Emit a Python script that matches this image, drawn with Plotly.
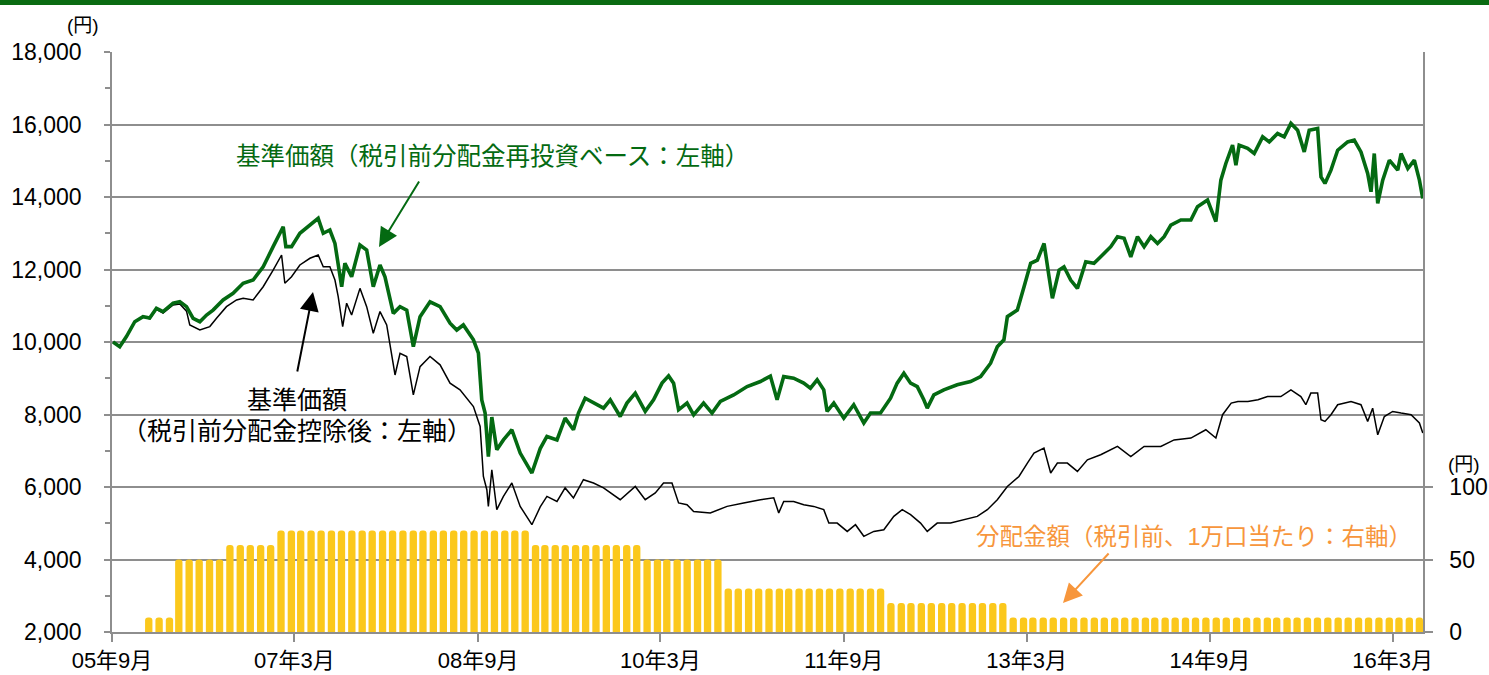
import numpy as np
import pandas as pd
import plotly.graph_objects as go

# ---------------- data ----------------
# time positions are in months since 2005-09-01
green_t = [0.10, 0.76, 1.42, 2.24, 3.05, 3.71, 4.37, 5.02, 6.01, 6.67, 7.33, 7.98, 8.64, 9.30, 9.94,
           10.93, 11.91, 12.90, 13.88, 14.87, 15.85, 16.84, 17.10, 17.66, 18.48, 19.47, 20.28, 20.78,
           21.43, 21.93, 22.59, 22.91, 23.57, 24.39, 25.05, 25.70, 26.36, 26.85, 27.67, 28.33, 28.99,
           29.64, 30.30, 31.28, 32.27, 33.25, 33.91, 34.56, 35.55, 36.04, 36.37, 36.70, 37.02, 37.36,
           37.85, 38.50, 39.33, 40.15, 41.30, 42.12, 42.78, 43.77, 44.57, 45.39, 45.88, 46.54, 47.36,
           48.35, 49.01, 49.99, 50.65, 51.47, 52.45, 53.27, 54.10, 54.75, 55.24, 55.73, 56.56, 57.21,
           58.19, 59.02, 59.84, 61.15, 62.47, 63.78, 64.76, 65.42, 66.07, 67.05, 68.04, 68.70, 69.36,
           70.01, 70.34, 71.00, 71.98, 72.96, 73.95, 74.61, 75.59, 76.58, 77.23, 77.89, 78.55, 79.21,
           79.85, 80.19, 80.84, 81.82, 83.14, 84.45, 85.44, 86.42, 87.08, 87.73, 88.07, 89.05, 89.71,
           90.36, 91.02, 91.68, 92.17, 92.50, 93.16, 93.64, 94.30, 94.96, 95.78, 96.59, 97.25, 98.24,
           98.90, 99.55, 100.21, 100.87, 101.52, 102.18, 102.84, 103.49, 104.15, 105.13, 106.12,
           106.77, 107.76, 108.58, 109.07, 109.56, 110.22, 110.55, 110.87, 111.70, 112.35, 113.18,
           113.83, 114.65, 115.30, 115.96, 116.62, 117.27, 117.76, 118.59, 118.92, 119.31, 119.90,
           120.56, 121.54, 122.19, 122.85, 123.51, 123.84, 124.16, 124.50, 124.99, 125.64, 126.47,
           126.80, 127.46, 128.10, 128.60, 128.93]
green_v = [10000, 9870, 10150, 10560, 10700, 10660, 10930, 10840, 11070, 11110, 10975, 10650, 10560,
           10745, 10880, 11160, 11345, 11620, 11710, 12075, 12630, 13180, 12630, 12630, 13000, 13225,
           13410, 13000, 13090, 12720, 11525, 12170, 11800, 12675, 12535, 11525, 12125, 11800, 10790,
           10975, 10880, 9870, 10700, 11110, 10975, 10520, 10330, 10470, 10060, 9690, 8400, 8040,
           6840, 7930, 7030, 7300, 7580, 6935, 6385, 7060, 7395, 7300, 7900, 7580, 8040, 8450, 8315,
           8175, 8405, 7945, 8315, 8590, 8085, 8405, 8865, 9065, 8865, 8130, 8315, 7990, 8315, 8040,
           8360, 8540, 8770, 8910, 9060, 8405, 9045, 9000, 8865, 8725, 8955, 8680, 8085, 8315, 7900,
           8270, 7765, 8040, 8040, 8450, 8865, 9140, 8865, 8770, 8405, 8175, 8540, 8680, 8820, 8910,
           9045, 9415, 9870, 10060, 10700, 10880, 11525, 12170, 12260, 12720, 11800, 11205, 11985,
           12075, 11710, 11480, 12215, 12170, 12350, 12630, 12905, 12860, 12350, 12905, 12630, 12905,
           12720, 12905, 13225, 13365, 13365, 13730, 13915, 13320, 14465, 14925, 15430, 14880, 15430,
           15340, 15200, 15660, 15520, 15750, 15660, 16030, 15840, 15245, 15840, 15890, 14555, 14375,
           14740, 15290, 15520, 15570, 15245, 14650, 14145, 15200, 13825, 14465, 15015, 14740, 15200,
           14785, 15015, 14465, 13960]

black_t = [0.10, 0.76, 1.42, 2.24, 3.05, 3.71, 4.37, 5.02, 6.01, 6.67, 7.33, 7.65, 8.64, 9.62, 10.28,
           11.26, 12.25, 12.90, 13.88, 14.87, 15.85, 16.68, 17.00, 17.66, 18.48, 19.47, 20.28, 20.78,
           21.43, 21.93, 22.25, 22.69, 23.08, 23.57, 24.39, 25.05, 25.70, 26.36, 27.02, 27.67, 27.84,
           28.33, 28.99, 29.64, 30.30, 31.28, 32.27, 33.25, 34.23, 35.55, 36.21, 36.53, 36.87, 37.02,
           37.36, 37.85, 38.50, 39.33, 40.15, 41.30, 42.12, 42.78, 43.77, 44.57, 45.39, 46.37, 47.36,
           48.35, 49.99, 51.47, 52.45, 53.44, 54.25, 55.08, 55.73, 56.56, 57.21, 58.85, 60.50, 62.13,
           63.78, 65.09, 65.58, 66.07, 67.05, 68.04, 69.02, 70.01, 70.51, 71.33, 72.32, 73.13, 73.95,
           74.93, 75.92, 76.90, 77.73, 78.55, 79.53, 80.19, 81.17, 82.48, 83.79, 85.11, 86.10, 87.08,
           88.07, 89.21, 90.04, 90.69, 91.67, 92.33, 92.99, 93.97, 94.96, 95.94, 97.25, 98.90, 100.21,
           101.52, 103.16, 104.47, 106.12, 107.59, 108.58, 109.24, 110.09, 110.75, 111.73, 112.72,
           113.66, 114.97, 115.96, 116.94, 117.43, 117.92, 118.59, 118.92, 119.31, 119.90, 120.56,
           121.87, 122.85, 123.51, 124.00, 124.50, 125.15, 125.97, 126.80, 127.78, 128.60, 128.93]
black_v = [10000, 9870, 10150, 10560, 10700, 10640, 10900, 10800, 11020, 11050, 10850, 10470, 10330,
           10425, 10655, 10975, 11160, 11205, 11160, 11525, 11985, 12400, 11620, 11800, 12125, 12310,
           12400, 12075, 12075, 11710, 11250, 10425, 11070, 10745, 11480, 10975, 10240, 10840, 10470,
           9415, 9090, 9690, 9600, 8540, 9320, 9600, 9370, 8865, 8680, 8220, 7670, 6290, 5925, 5465,
           6475, 5375, 5740, 6110, 5465, 4960, 5450, 5740, 5600, 5975, 5700, 6200, 6110, 5975, 5650,
           6015, 5650, 5835, 6110, 6110, 5560, 5510, 5325, 5285, 5465, 5560, 5650, 5700, 5285, 5600,
           5600, 5510, 5465, 5375, 5005, 5005, 4775, 4960, 4640, 4775, 4820, 5190, 5375, 5235, 5005,
           4775, 5005, 5005, 5100, 5190, 5375, 5650, 6015, 6290, 6660, 6935, 7075, 6385, 6660, 6660,
           6430, 6750, 6890, 7120, 6840, 7120, 7120, 7300, 7350, 7580, 7350, 7995, 8315, 8360, 8360,
           8405, 8495, 8495, 8680, 8495, 8270, 8590, 8590, 7855, 7810, 7995, 8270, 8360, 8270, 7810,
           8175, 7440, 7945, 8085, 8040, 7995, 7765, 7490]

# monthly distribution (yen per 10,000 units), Dec 2005 .. May 2016
dist_values = [10,
               10, 10, 50, 50, 50, 50, 50, 60, 60, 60, 60, 60,   # 2006
               70, 70, 70, 70, 70, 70, 70, 70, 70, 70, 70, 70,   # 2007
               70, 70, 70, 70, 70, 70, 70, 70, 70, 70, 70, 70,   # 2008
               70, 60, 60, 60, 60, 60, 60, 60, 60, 60, 60, 60,   # 2009
               50, 50, 50, 50, 50, 50, 50, 50, 30, 30, 30, 30,   # 2010
               30, 30, 30, 30, 30, 30, 30, 30, 30, 30, 30, 30,   # 2011
               20, 20, 20, 20, 20, 20, 20, 20, 20, 20, 20, 20,   # 2012
               10, 10, 10, 10, 10, 10, 10, 10, 10, 10, 10, 10,   # 2013
               10, 10, 10, 10, 10, 10, 10, 10, 10, 10, 10, 10,   # 2014
               10, 10, 10, 10, 10, 10, 10, 10, 10, 10, 10, 10,   # 2015
               10, 10, 10, 10, 10]                               # 2016

tick_dates = ["2005-09-01", "2007-03-01", "2008-09-01", "2010-03-01",
              "2011-09-01", "2013-03-01", "2014-09-01", "2016-03-01"]
tick_text = ["05年9月", "07年3月", "08年9月", "10年3月", "11年9月", "13年3月", "14年9月", "16年3月"]

# ---------------- build ----------------
BASE = pd.Timestamp("2005-09-01")
def to_dates(t):
    return BASE + pd.to_timedelta(np.array(t) * 30.4375, unit="D")

dist_dates = pd.date_range("2005-12-01", periods=len(dist_values), freq="MS") + pd.Timedelta(days=19)

GREEN = "#046A12"
BAR = "#FBC81C"
ORANGE = "#F7963C"
GRID = "#8E8E8E"
FONT = "Liberation Sans, Arial, Noto Sans CJK JP, sans-serif"

fig = go.Figure()
fig.add_trace(go.Bar(x=dist_dates, y=dist_values, yaxis="y2", marker=dict(color=BAR, line=dict(width=0)),
                     width=22 * 86400000, name="分配金額"))
fig.add_trace(go.Scatter(x=to_dates(black_t), y=black_v, mode="lines",
                         line=dict(color="#000000", width=1.5), name="基準価額"))
fig.add_trace(go.Scatter(x=to_dates(green_t), y=green_v, mode="lines",
                         line=dict(color=GREEN, width=3.6), name="基準価額（再投資）"))

W, H = 1489, 675
L, R, T, B = 112, 1423, 52, 632
def px(x):
    return (x - L) / (R - L)
def py(y):
    return (B - y) / (B - T)

fig.update_layout(
    width=W, height=H, autosize=False,
    margin=dict(l=L, r=W - R, t=T, b=H - B, pad=0, autoexpand=False),
    paper_bgcolor="white", plot_bgcolor="white",
    showlegend=False,
    barcornerradius=3,
    font=dict(family=FONT, size=23, color="#000000"),
    xaxis=dict(type="date", range=["2005-09-01", "2016-05-31"], automargin=False,
               tickvals=tick_dates, ticktext=tick_text,
               ticks="outside", ticklen=8, tickwidth=1.5, tickcolor=GRID,
               showline=True, linecolor=GRID, linewidth=1.5, showgrid=False,
               ticklabelstandoff=0, tickfont=dict(size=22)),
    yaxis=dict(range=[2000, 18000], dtick=2000, tick0=2000, tickformat=",d", automargin=False,
               showgrid=True, gridcolor=GRID, gridwidth=1.5,
               showline=True, linecolor=GRID, linewidth=1.5,
               ticks="outside", ticklen=6, tickwidth=1.5, tickcolor=GRID,
               minor=dict(dtick=1000, tick0=2000, ticks="outside", ticklen=5, tickwidth=1.5,
                          tickcolor=GRID, showgrid=False),
               zeroline=False, ticklabelstandoff=18, tickfont=dict(size=23)),
    yaxis2=dict(overlaying="y", side="right", range=[0, 400], tickvals=[0, 50, 100], automargin=False,
                showgrid=False, zeroline=False, showline=True, linecolor=GRID, linewidth=1.5,
                ticks="outside", ticklen=8, tickwidth=1.5, tickcolor=GRID,
                ticklabelstandoff=12, tickfont=dict(size=23)),
)

# top green band
fig.add_shape(type="rect", xref="paper", yref="paper", x0=px(-5), x1=px(W + 5), y0=py(5), y1=py(-5),
              fillcolor="#0A6B12", line=dict(width=0), layer="above")

annos = [
    dict(text="(円)", x=px(83), y=py(25), size=19, color="#000000"),
    dict(text="(円)", x=px(1464), y=py(464), size=19, color="#000000"),
    dict(text="基準価額（税引前分配金再投資ベース：左軸）", x=px(492), y=py(156), size=24.5, color=GREEN),
    dict(text="基準価額", x=px(297), y=py(400), size=25, color="#000000"),
    dict(text="（税引前分配金控除後：左軸）", x=px(297), y=py(431), size=25, color="#000000"),
    dict(text="分配金額（税引前、1万口当たり：右軸）", x=px(1194), y=py(537), size=23.5, color=ORANGE),
]
for a in annos:
    fig.add_annotation(text=a["text"], x=a["x"], y=a["y"], xref="paper", yref="paper",
                       showarrow=False, xanchor="center", yanchor="middle",
                       font=dict(family=FONT, size=a["size"], color=a["color"]))

arrows = [
    ((379, 247), (420, 180), GREEN),
    ((313, 292), (297, 373), "#000000"),
    ((1063, 603), (1110, 552), ORANGE),
]
for (hx, hy), (tx, ty), col in arrows:
    fig.add_annotation(text="", x=px(hx), y=py(hy), xref="paper", yref="paper",
                       showarrow=True, ax=tx - hx, ay=ty - hy, axref="pixel", ayref="pixel",
                       arrowhead=2, arrowsize=1.9, arrowwidth=2, arrowcolor=col, standoff=0,
                       startstandoff=0)

fig.write_html("out.html")
